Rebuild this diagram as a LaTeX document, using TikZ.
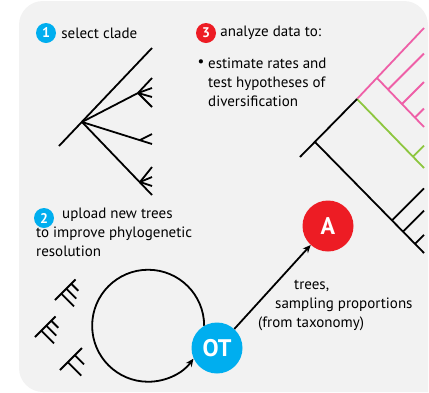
\documentclass[tikz,border=0pt]{standalone}
\usepackage{fontspec}
\setmainfont{PT Sans}
\usetikzlibrary{positioning,arrows.meta}

\definecolor{otblue}{HTML}{00AEEF}
\definecolor{otred}{HTML}{ED1C24}
\definecolor{cladepink}{HTML}{EE5FA7}
\definecolor{cladegreen}{HTML}{8DC63F}
\definecolor{panelgray}{HTML}{F2F2F2}

\tikzset{
	branch/.style={line width=1.8pt},
	conn/.style={line width=1.8pt, -{Stealth[length=8pt,width=7pt]}},
	badge/.style={circle, inner sep=0pt, minimum size=20pt, text=white, font=\bfseries\fontsize{14}{14}\selectfont},
	hub/.style={circle, inner sep=0pt, minimum size=51pt, text=white, font=\bfseries\fontsize{24}{24}\selectfont},
	txt/.style={inner sep=1pt, font=\fontsize{15}{19}\selectfont}
}

\begin{document}
\begin{tikzpicture}[x=1pt,y=-1pt]
	\useasboundingbox (0,0) rectangle (429,392);
	\fill[panelgray] (428,392) [rounded corners=24] -- (19,392) -- (19,1) -- (428,1) [sharp corners] -- cycle;

	% step 1
	\node[badge, fill=otblue] (n1) at (46,33) {1};
	\node[txt, right=4pt of n1] (t1) {select clade};

	\draw[branch] (59,146) -- (152,48);
	\draw[branch] (82,122) -- (138,93);
	\foreach \y in {78,88,97,107}
		\draw[branch] (138,93) -- (152,\y);
	\draw[branch] (82,122) -- (152,144);
	\draw[branch] (140,140) -- (152,134);
	\draw[branch] (82,122) -- (152,195);
	\foreach \y in {167,177,186}
		\draw[branch] (140,182) -- (152,\y);

	% step 3
	\node[badge, fill=otred] (n3) at (206,33) {3};
	\node[txt, right=3pt of n3] (t3) {analyze data to:};
	\node[txt] (bul) at (201,63) {\textbullet};
	\node[txt, align=left, anchor=west] (t3b) at (207,82) {estimate rates and\\test hypotheses of\\diversification};

	\draw[branch, cladepink] (357,99) -- (424,28);
	\draw[branch, cladepink] (377,78) -- (424,127);
	\draw[branch, cladepink] (388,89.5) -- (424,53.5);
	\draw[branch, cladepink] (402,104) -- (424,82);
	\draw[branch, cladepink] (415,117.5) -- (424,108.5);
	\draw[branch, cladegreen] (357,99) -- (424,168);
	\draw[branch, cladegreen] (413,156.7) -- (424,145.7);
	\draw[branch] (357,99) -- (300,157);
	\draw[branch] (315,142) -- (424,253);
	\draw[branch] (392,220.4) -- (424,188.4);
	\draw[branch] (403,231.6) -- (424,210.6);
	\draw[branch] (415,243.8) -- (424,234.8);

	% step 2
	\node[txt, align=left, anchor=north west] (t2) at (35,207) {\hspace*{26pt}upload new trees\\to improve phylogenetic\\resolution};
	\node[badge, fill=otblue] (n2) at (44,218) {2};

	\begin{scope}[shift={(55,300)}, rotate=45]
		\draw[branch] (0,0) -- (29,0);
		\foreach \s/\l in {9/18,16/14,23/10}
			\draw[branch] (\s,0) -- (\s,\l);
	\end{scope}
	\begin{scope}[shift={(35,337)}, rotate=45]
		\draw[branch] (0,0) -- (29,0);
		\foreach \s/\l in {9/18,16/14,23/10}
			\draw[branch] (\s,0) -- (\s,\l);
	\end{scope}
	\begin{scope}[shift={(60,370)}, rotate=45]
		\draw[branch] (0,0) -- (31,0);
		\foreach \s/\l in {11/19,21/13}
			\draw[branch] (\s,0) -- (\s,\l);
	\end{scope}

	\node[hub, fill=otblue] (ot) at (217,348) {OT};
	\node[hub, fill=otred] (A) at (328,226) {A};

	\draw[conn] (ot.120) arc[start angle=0, end angle=324, radius=56pt];
	\draw[conn] (ot) -- (A);

	\node[txt, align=left, anchor=west] (cap) at (257,305) {\hspace*{36pt}trees,\\\hspace*{17pt}sampling proportions\\(from taxonomy)};
\end{tikzpicture}
\end{document}
